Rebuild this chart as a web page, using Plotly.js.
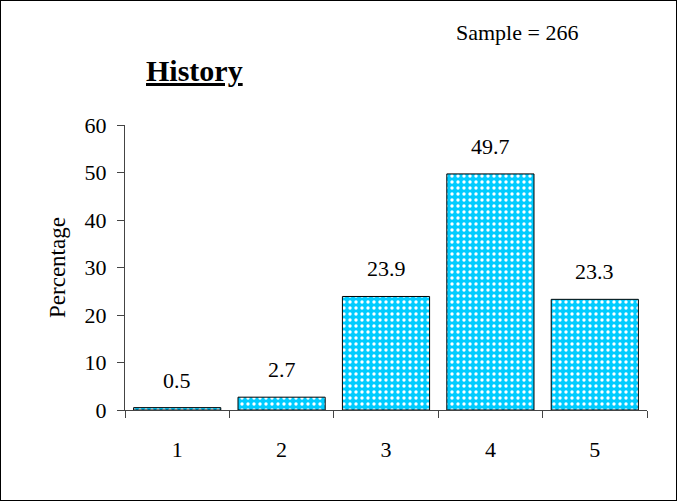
<!DOCTYPE html>
<html>
<head>
<meta charset="utf-8">
<script src="https://cdn.plot.ly/plotly-3.0.1.min.js"></script>
<style>
html,body{margin:0;padding:0;background:#fff;}
#wrap{position:relative;width:677px;height:503px;}
#chart{width:677px;height:503px;}
#frame{position:absolute;left:0;top:0;width:675px;height:499px;border:1px solid #000;pointer-events:none;}
</style>
</head>
<body>
<div id="wrap"><div id="chart"></div><div id="frame"></div></div>
<script>
const categories = ['1','2','3','4','5'];
const percentages = [0.5, 2.7, 23.9, 49.7, 23.3];
const yTicks = [0,10,20,30,40,50,60];
const chartTitle = 'History';
const sampleNote = 'Sample = 266';
const yLabel = 'Percentage';

const serif = 'Liberation Serif, Times New Roman, serif';

const bars = {
  type: 'bar',
  x: categories,
  y: percentages,
  marker: {
    color: '#00CCFF',
    line: {color: '#000', width: 1},
    pattern: {shape: '.', fgcolor: '#ffffff', bgcolor: '#00CCFF', size: 6, solidity: 0.25, fillmode: 'replace'}
  },
  hoverinfo: 'none'
};

const valueLabels = categories.map((c, i) => ({
  x: i, y: percentages[i], xref: 'x', yref: 'y',
  text: percentages[i].toFixed(1), showarrow: false,
  yanchor: 'bottom', yshift: 13,
  font: {family: serif, size: 22, color: '#000'}
}));

const layout = {
  width: 677, height: 503,
  margin: {l: 125, r: 30, t: 125, b: 93},
  paper_bgcolor: '#fff', plot_bgcolor: '#fff',
  showlegend: false,
  bargap: 0.165,
  font: {family: serif, size: 22, color: '#000'},
  xaxis: {
    type: 'category', range: [-0.5, 4.5], tickson: 'boundaries', ticks: 'outside', ticklen: 7,
    tickcolor: '#444', showline: true, linecolor: '#444', linewidth: 1,
    showgrid: false, zeroline: false, fixedrange: true, ticklabelstandoff: 20,
    tickfont: {family: serif, size: 22, color: '#000'}
  },
  yaxis: {
    range: [0, 60], tickvals: yTicks, ticks: 'outside', ticklen: 7,
    tickcolor: '#444', showline: true, linecolor: '#444', linewidth: 1,
    showgrid: false, zeroline: false, fixedrange: true, ticklabelstandoff: 6,
    tickfont: {family: serif, size: 22, color: '#000'},
    title: {text: yLabel, font: {family: serif, size: 23, color: '#000'}, standoff: 12}
  },
  annotations: valueLabels.concat([
    {xref: 'paper', yref: 'paper', x: 0.134, y: 1.19, text: '<b><u>' + chartTitle + '</u></b>',
     showarrow: false, xanchor: 'center', yanchor: 'middle', font: {family: serif, size: 30, color: '#000'}},
    {xref: 'paper', yref: 'paper', x: 0.75, y: 1.326, text: sampleNote,
     showarrow: false, xanchor: 'center', yanchor: 'middle', font: {family: serif, size: 22, color: '#000'}}
  ])
};

Plotly.newPlot('chart', [bars], layout, {staticPlot: true, displayModeBar: false});
</script>
</body>
</html>
